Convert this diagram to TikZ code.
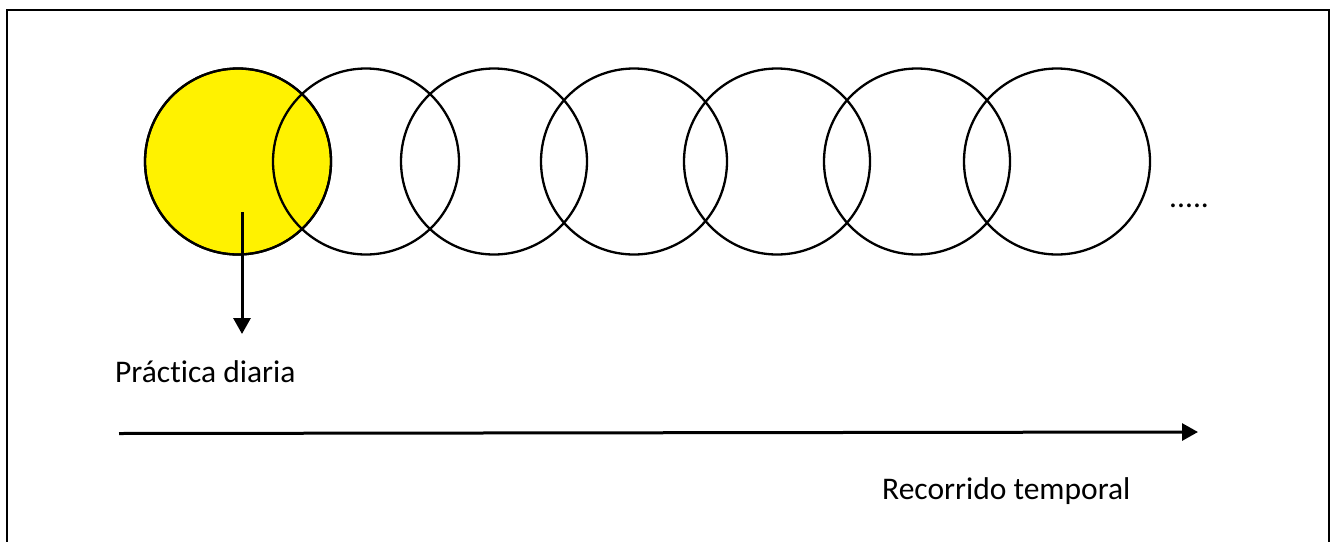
\documentclass[tikz,border=0pt]{standalone}
\usepackage{fontspec}
\setmainfont{Carlito}[Ligatures=NoCommon]
\usetikzlibrary{arrows.meta}
\begin{document}
\begin{tikzpicture}[x=1pt,y=-1pt,
  ring/.style={circle,draw=black,line width=2.3pt,minimum size=186pt,inner sep=0pt},
  arrowline/.style={line width=3pt,-{Triangle[length=16pt,width=17pt]}},
  label/.style={font=\fontsize{31.5}{36}\selectfont,inner sep=0pt,anchor=base west}]
\useasboundingbox (0,0) rectangle (1333,541);
\draw[line width=2.5pt] (7,560) -- (7,10) -- (1329,10) -- (1329,560);
\node[ring,fill=yellow] (c1) at (238,161.5) {};
\foreach \n/\x in {2/366,3/494,4/634,5/777,6/917,7/1057}
  \node[ring] (c\n) at (\x,161.5) {};
\node[ring] at (238,161.5) {};
\node[label] (dots) at (1169,207) {.....};
\coordinate (pstart) at (242,212);
\node[label] (prac) at (115,382) {Práctica diaria};
\coordinate (pend) at (242,334);
\draw[arrowline] (pstart) -- (pend);
\coordinate (tstart) at (119,433.5);
\coordinate (tend) at (1198,432);
\draw[arrowline] (tstart) -- (tend);
\node[label] (rec) at (882,499) {Recorrido temporal};
\end{tikzpicture}
\end{document}
